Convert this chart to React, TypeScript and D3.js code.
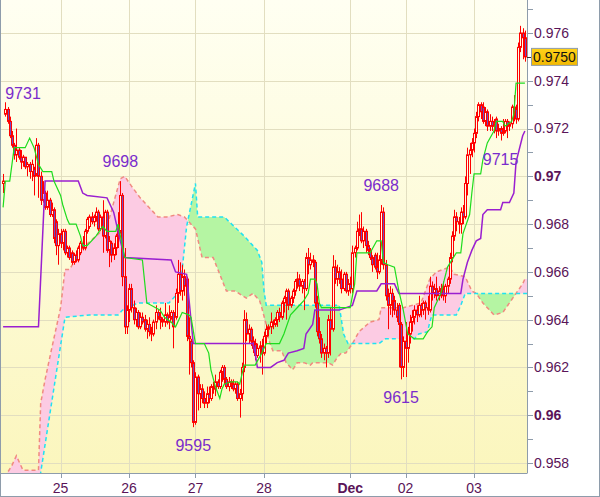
import * as d3 from 'd3'
import { useEffect } from 'react'

type Bar = [number, number, number, number] // open, high, low, close (units of 0.0001)
type Pt = [number, number] // bar index, value (units of 0.0001)

const nov24: Bar[] = [
  [9697,9701,9693,9698],[9726,9731,9725,9728],[9728,9729,9722,9723],[9723,9725,9716,9717],[9717,9719,9712,9713],
  [9713,9714,9707,9709],[9709,9720,9706,9711],[9711,9712,9707,9708],[9708,9711,9703,9706],[9706,9709,9704,9708],
  [9708,9708,9703,9704],[9704,9706,9700,9705],[9705,9706,9699,9702],[9702,9707,9698,9705],[9703,9704,9692,9700],
  [9701,9716,9700,9713],[9713,9714,9691,9700],[9700,9702,9688,9690],[9690,9698,9689,9693],[9693,9694,9686,9687],
  [9687,9694,9686,9690],[9690,9691,9683,9684],[9684,9689,9683,9686],[9686,9687,9672,9674],[9681,9682,9667,9671],
  [9671,9678,9663,9676],
]
const nov25: Bar[] = [
  [9676,9678,9670,9672],[9672,9678,9669,9677],[9677,9678,9667,9668],[9668,9671,9666,9670],[9670,9671,9665,9666],
  [9668,9669,9663,9664],[9664,9668,9663,9667],[9667,9669,9664,9665],[9665,9671,9664,9670],[9668,9673,9667,9672],
  [9672,9675,9669,9670],[9670,9678,9669,9677],[9677,9683,9676,9682],[9679,9684,9678,9683],[9683,9685,9680,9681],
  [9681,9684,9679,9683],[9683,9687,9681,9685],[9685,9686,9677,9678],[9678,9684,9677,9683],[9683,9690,9668,9675],
  [9675,9686,9674,9685],[9685,9686,9668,9669],[9669,9675,9662,9673],[9672,9673,9664,9667],[9667,9672,9665,9670],
  [9670,9676,9667,9675],[9675,9685,9670,9677],[9677,9698,9676,9692],[9692,9693,9654,9658],[9658,9670,9634,9637],
  [9637,9646,9634,9644],
]
const nov26: Bar[] = [
  [9644,9655,9639,9653],[9653,9655,9643,9645],[9645,9648,9638,9640],[9640,9645,9637,9643],[9643,9644,9636,9637],
  [9637,9643,9636,9641],[9641,9643,9638,9639],[9640,9642,9635,9636],[9636,9640,9632,9638],[9638,9641,9633,9635],
  [9635,9637,9631,9634],[9634,9640,9633,9639],[9639,9646,9636,9643],[9643,9644,9640,9641],[9641,9645,9636,9640],
  [9640,9641,9637,9639],[9639,9647,9637,9642],[9642,9643,9638,9639],[9639,9646,9636,9641],[9641,9644,9640,9643],
  [9643,9644,9628,9637],[9641,9653,9640,9651],[9651,9665,9647,9659],[9659,9664,9650,9652],[9652,9663,9648,9658],
  [9658,9661,9650,9654],[9657,9658,9631,9633],[9633,9641,9617,9632],[9631,9632,9620,9622],[9622,9623,9595,9597],
]
const nov27: Bar[] = [
  [9597,9618,9596,9616],[9616,9617,9602,9609],[9609,9613,9603,9611],[9611,9613,9605,9607],[9607,9610,9603,9605],
  [9605,9612,9603,9609],[9609,9612,9605,9607],[9607,9613,9606,9612],[9612,9614,9609,9611],[9611,9617,9608,9614],
  [9614,9615,9611,9612],[9612,9619,9611,9618],[9618,9621,9614,9620],[9620,9621,9613,9615],[9615,9616,9611,9612],
  [9612,9616,9610,9614],[9614,9615,9611,9613],[9613,9615,9610,9611],[9611,9614,9609,9613],[9613,9614,9606,9607],
  [9607,9611,9599,9609],[9609,9622,9606,9620],[9620,9644,9618,9640],[9640,9643,9631,9634],[9634,9638,9630,9636],
  [9636,9637,9629,9631],[9631,9633,9626,9628],[9630,9632,9623,9625],[9625,9630,9624,9628],[9628,9631,9622,9629],
  [9629,9632,9617,9626],
]
const nov28: Bar[] = [
  [9626,9635,9625,9633],[9633,9638,9630,9636],[9636,9638,9633,9637],[9637,9643,9634,9639],[9639,9640,9636,9638],
  [9638,9641,9637,9640],[9640,9644,9637,9643],[9643,9645,9639,9641],[9641,9648,9640,9647],[9647,9650,9643,9649],
  [9649,9653,9640,9652],[9652,9653,9644,9646],[9646,9650,9645,9649],[9649,9653,9647,9652],[9652,9657,9650,9656],
  [9656,9660,9653,9657],[9657,9659,9652,9654],[9654,9657,9651,9656],[9656,9657,9644,9653],[9653,9668,9652,9666],
  [9666,9670,9659,9663],[9663,9668,9661,9665],[9665,9667,9662,9664],[9664,9665,9645,9647],[9647,9650,9633,9635],
  [9635,9641,9630,9632],[9632,9634,9624,9626],[9626,9630,9623,9628],[9628,9629,9620,9626],[9626,9642,9624,9640],
  [9640,9645,9625,9636],[9636,9667,9635,9662],[9662,9665,9655,9657],[9657,9663,9654,9660],[9660,9662,9655,9657],
  [9657,9661,9651,9653],[9653,9660,9652,9659],[9659,9660,9651,9652],[9652,9657,9650,9655],
]
const dec01: Bar[] = [
  [9655,9658,9651,9653],[9653,9671,9651,9668],[9668,9671,9666,9670],[9670,9681,9669,9677],[9677,9684,9675,9678],
  [9678,9685,9672,9673],[9673,9679,9670,9677],[9677,9678,9668,9671],[9671,9673,9667,9669],[9669,9670,9665,9666],
  [9666,9667,9660,9663],[9667,9668,9661,9662],[9662,9668,9657,9660],[9660,9667,9659,9665],[9665,9688,9663,9685],
  [9685,9687,9661,9663],[9663,9665,9648,9650],[9650,9653,9636,9646],[9646,9654,9642,9651],[9651,9653,9641,9648],
  [9648,9650,9642,9644],[9644,9647,9639,9641],[9646,9647,9620,9638],[9638,9639,9615,9620],[9620,9633,9616,9631],
]
const dec02: Bar[] = [
  [9631,9639,9616,9628],[9628,9637,9622,9634],[9634,9642,9630,9639],[9639,9644,9635,9641],[9641,9646,9638,9644],
  [9644,9646,9639,9642],[9642,9650,9641,9646],[9646,9647,9641,9644],[9644,9648,9642,9647],[9647,9648,9640,9645],
  [9645,9650,9642,9644],[9644,9658,9643,9654],[9654,9656,9648,9651],[9651,9655,9649,9653],[9653,9658,9648,9650],
  [9650,9654,9648,9652],[9652,9655,9649,9653],[9653,9656,9648,9650],[9650,9655,9647,9654],[9654,9658,9651,9657],
  [9657,9668,9655,9666],[9666,9677,9664,9675],[9675,9686,9673,9683],[9683,9685,9677,9681],[9681,9683,9676,9680],
  [9680,9687,9676,9685],[9685,9688,9680,9683],[9683,9700,9682,9697],[9697,9712,9692,9709],[9709,9714,9701,9711],
  [9711,9716,9708,9714],
]
const dec03: Bar[] = [
  [9714,9720,9710,9718],[9718,9727,9716,9725],[9725,9731,9723,9730],[9730,9731,9724,9727],[9729,9731,9722,9723],
  [9723,9729,9721,9727],[9727,9728,9719,9721],[9721,9726,9719,9723],[9723,9725,9719,9721],[9721,9724,9718,9722],
  [9724,9725,9716,9719],[9719,9722,9717,9720],[9720,9721,9715,9718],[9718,9724,9717,9719],[9719,9724,9718,9723],
  [9723,9724,9716,9721],[9721,9723,9719,9722],[9722,9730,9720,9729],[9729,9734,9723,9727],[9728,9730,9722,9724],
  [9724,9756,9723,9754],[9754,9763,9752,9760],[9760,9762,9749,9758],[9758,9761,9748,9750],
]

const days = [
  { label: '', bars: nov24 },
  { label: '25', bars: nov25 },
  { label: '26', bars: nov26 },
  { label: '27', bars: nov27 },
  { label: '28', bars: nov28 },
  { label: 'Dec', bars: dec01 },
  { label: '02', bars: dec02 },
  { label: '03', bars: dec03 },
]
const candles: Bar[] = days.flatMap((d) => d.bars)

// ichimoku lines, read as vertices [bar, value]
const tenkan: Pt[] = [
  [0,9687],[1,9698],[3,9698],[5,9712],[10,9712],[12,9716],[14,9712],[16,9705],[18,9702],[22,9702],[23,9698],
  [26,9692],[27,9688],[29,9682],[30,9680],[33,9680],[35,9675],[36,9671],[38,9671],[42,9675],[45,9679],[47,9677],
  [51,9677],[52,9680],[55,9666],[63,9665],[65,9647],[69,9645],[71,9644],[73,9641],[76,9639],[78,9637],[81,9643],
  [84,9642],[85,9641],[87,9630],[91,9630],[93,9626],[94,9619],[96,9612],[98,9607],[99,9611],[100,9613],[103,9614],
  [106,9614],[107,9613],[108,9617],[109,9621],[114,9621],[117,9626],[119,9630],[125,9630],[127,9634],[130,9642],
  [133,9645],[136,9648],[138,9651],[139,9657],[141,9657],[142,9655],[143,9647],[144,9645],[157,9645],[159,9655],
  [160,9668],[166,9668],[169,9673],[171,9673],[172,9664],[174,9663],[177,9662],[179,9652],[181,9644],[183,9634],
  [186,9632],[190,9632],[192,9635],[194,9637],[195,9645],[198,9651],[201,9662],[205,9668],[207,9668],[208,9676],
  [211,9684],[212,9693],[213,9701],[216,9701],[217,9707],[219,9714],[222,9719],[223,9723],[226,9723],[227,9721],
  [230,9723],[231,9726],[232,9739],[236,9739],
]
const kijun: Pt[] = [
  [0,9637],[16,9637],[19,9698],[34,9698],[36,9693],[38,9692],[47,9691],[50,9685],[53,9673],[55,9666],[76,9665],
  [78,9660],[83,9659],[86,9630],[113,9630],[114,9626],[115,9620],[121,9620],[124,9622],[127,9623],[129,9626],
  [133,9627],[136,9628],[137,9634],[140,9638],[141,9644],[152,9644],[158,9646],[160,9652],[169,9652],[171,9655],
  [177,9655],[179,9651],[207,9651],[208,9657],[210,9664],[212,9669],[214,9673],[216,9674],[217,9684],[219,9686],
  [225,9686],[226,9689],[229,9689],[231,9693],[232,9706],[235,9717],[236,9719],
]
const spanA: Pt[] = [
  [0,9570],[16,9570],[17,9576],[28,9641],[39,9642],[52,9642],[54,9644],[61,9647],[75,9647],[80,9652],[83,9679],
  [87,9697],[88,9683],[100,9683],[109,9675],[115,9669],[117,9664],[118,9652],[119,9646],[152,9646],[154,9634],
  [156,9630],[170,9630],[173,9632],[186,9632],[188,9634],[192,9635],[193,9639],[194,9642],[205,9642],[207,9646],
  [209,9651],[236,9651],
]
const spanB: Pt[] = [
  [0,9572],[2,9576],[4,9579],[6,9583],[9,9577],[16,9577],[17,9605],[19,9615],[22,9628],[26,9645],[28,9661],
  [30,9661],[36,9670],[42,9675],[47,9679],[50,9689],[53,9699],[55,9700],[58,9696],[62,9691],[65,9688],[70,9683],
  [74,9683],[79,9684],[82,9683],[84,9681],[87,9678],[90,9666],[95,9666],[98,9659],[101,9652],[105,9652],[110,9649],
  [113,9651],[116,9648],[117,9645],[119,9638],[120,9632],[122,9627],[126,9627],[128,9622],[131,9619],[133,9622],
  [136,9622],[139,9621],[140,9622],[147,9622],[149,9621],[151,9624],[153,9626],[155,9626],[158,9630],[161,9635],
  [166,9639],[170,9640],[171,9645],[181,9645],[189,9647],[193,9657],[196,9660],[202,9662],[204,9659],[209,9658],
  [212,9652],[214,9651],[217,9647],[222,9642],[226,9643],[229,9647],[232,9651],[235,9655],[236,9657],
]

const marks = [
  { bar: 1, at: 'high' },
  { bar: 53, at: 'high' },
  { bar: 86, at: 'low' },
  { bar: 171, at: 'high' },
  { bar: 180, at: 'low' },
  { bar: 225, at: 'low' },
]

const priceTicks = [0.958, 0.96, 0.962, 0.964, 0.966, 0.968, 0.97, 0.972, 0.974, 0.976]
const minorTicks = [0.959, 0.961, 0.963, 0.965, 0.967, 0.969, 0.971, 0.973, 0.975, 0.977]
const lastPrice = 0.975

export default function App() {
  useEffect(() => {
    document.body.style.margin = '0'
  }, [])

  const W = 600
  const H = 497
  const plotL = 1
  const plotR = 527
  const plotB = 473
  const n = candles.length

  const x = d3.scaleLinear().domain([-0.5, n - 0.5]).range([2, 526])
  const y = d3.scaleLinear().domain([0.958, 0.976]).range([463, 33])
  const yp = (v: number) => y(v / 10000)

  const line = d3.line<Pt>().x((d) => x(d[0])).y((d) => yp(d[1]))
  const widen = (pts: Pt[]): Pt[] => [[-1, pts[0][1]], ...pts, [n, pts[pts.length - 1][1]]]
  const above = d3.area<Pt>().x((d) => x(d[0])).y0(-20).y1((d) => yp(d[1]))
  const below = d3.area<Pt>().x((d) => x(d[0])).y0(H + 20).y1((d) => yp(d[1]))

  const dayStarts: { label: string; bar: number }[] = []
  let acc = 0
  days.forEach((d) => {
    if (d.label) dayStarts.push({ label: d.label, bar: acc })
    acc += d.bars.length
  })

  const font = "'Liberation Sans', Arial, sans-serif"
  const axisText = '#5a1458'
  const frame = '#8e9cab'
  const grid = '#e2dec0'
  const crisp = (v: number) => Math.round(v) + 0.5

  return (
    <svg width={W} height={H} style={{ display: 'block' }} fontFamily={font}>
      <defs>
        <linearGradient id="bg" x1="0" y1="0" x2="0" y2="1">
          <stop offset="0" stopColor="#fffff2" />
          <stop offset="1" stopColor="#fbf6bd" />
        </linearGradient>
        <linearGradient id="gold" x1="0" y1="0" x2="0" y2="1">
          <stop offset="0" stopColor="#ffd21a" />
          <stop offset="1" stopColor="#f2b800" />
        </linearGradient>
        <clipPath id="plot">
          <rect x={plotL} y={0} width={plotR - plotL} height={plotB} />
        </clipPath>
        <clipPath id="aboveA">
          <path d={above(widen(spanA)) || undefined} />
        </clipPath>
        <clipPath id="aboveB">
          <path d={above(widen(spanB)) || undefined} />
        </clipPath>
      </defs>

      <rect width={W} height={H} fill="#ffffff" />
      <rect x={plotL} y={0} width={plotR - plotL} height={plotB} fill="url(#bg)" />

      <g clipPath="url(#plot)">
        {priceTicks.map((t) => (
          <line key={t} x1={plotL} x2={plotR} y1={crisp(y(t))} y2={crisp(y(t))} stroke={grid} />
        ))}
        {dayStarts.map((d) => (
          <line key={d.label} x1={crisp(x(d.bar))} x2={crisp(x(d.bar))} y1={0} y2={plotB} stroke={grid} />
        ))}

        {/* kumo fills */}
        <g clipPath="url(#aboveA)">
          <path d={below(widen(spanB)) || undefined} fill="#fccbe3" />
        </g>
        <g clipPath="url(#aboveB)">
          <path d={below(widen(spanA)) || undefined} fill="#b5f5a3" />
        </g>
        <path d={line(widen(spanB)) || undefined} fill="none" stroke="#f08a80" strokeWidth={1.5} strokeDasharray="4 3" />
        <path d={line(widen(spanA)) || undefined} fill="none" stroke="#1fe2f2" strokeWidth={1.5} strokeDasharray="4 3" />

        {candles.map(([o, h, l, c], i) => {
          const cx = crisp(x(i))
          const top = yp(Math.max(o, c))
          const bot = yp(Math.min(o, c))
          return (
            <g key={i}>
              <line x1={cx} x2={cx} y1={yp(h)} y2={yp(l)} stroke="#ff0000" />
              <rect
                x={cx - 1}
                y={top}
                width={2}
                height={Math.max(bot - top, 0.6)}
                fill={c < o ? '#6e4cc2' : '#fffce6'}
                stroke="#ff0000"
              />
            </g>
          )
        })}

        <path d={line(kijun) || undefined} fill="none" stroke="#9a1fd0" strokeWidth={1.5} />
        <path d={line(tenkan) || undefined} fill="none" stroke="#1edc1e" strokeWidth={1.2} />
      </g>

      {marks.map((m) => {
        const b = candles[m.bar]
        const v = m.at === 'high' ? b[1] : b[2]
        // near the left edge the label is pushed right, beside the bar instead of above it
        const atEdge = x(m.bar) < 23
        const tx = Math.max(x(m.bar), 23)
        const ty = m.at === 'high' ? yp(v) - (atEdge ? 3 : 14) : yp(v) + 24
        return (
          <text key={m.bar} x={tx} y={ty} textAnchor="middle" fontSize={16} fill="#7a2ccc">
            {v}
          </text>
        )
      })}

      {/* axes */}
      <line x1={plotR + 0.5} x2={plotR + 0.5} y1={0} y2={plotB} stroke={frame} />
      <line x1={0} x2={plotR + 0.5} y1={plotB + 0.5} y2={plotB + 0.5} stroke={frame} />
      {minorTicks.map((t) => (
        <line key={t} x1={plotR} x2={plotR + 6} y1={crisp(y(t))} y2={crisp(y(t))} stroke={frame} />
      ))}
      {priceTicks.map((t) => {
        const label = String(+t.toFixed(3))
        const round = label.length <= 4
        return (
          <g key={t}>
            <line x1={plotR} x2={plotR + 6} y1={crisp(y(t))} y2={crisp(y(t))} stroke={frame} />
            <text
              x={plotR + 7}
              y={y(t)}
              dy="0.35em"
              fontSize={14}
              fontWeight={round ? 'bold' : 'normal'}
              fill={axisText}
            >
              {label}
            </text>
          </g>
        )
      })}
      <line x1={plotR} x2={plotR + 5} y1={crisp(y(lastPrice))} y2={crisp(y(lastPrice))} stroke="#333" />
      <rect x={plotR + 4.5} y={y(lastPrice) - 8.5} width={46} height={17} fill="url(#gold)" stroke={frame} />
      <text x={plotR + 27.5} y={y(lastPrice)} dy="0.36em" textAnchor="middle" fontSize={14} fill="#111">
        {d3.format('.4f')(lastPrice)}
      </text>

      {dayStarts.map((d) => (
        <g key={d.label}>
          <line x1={crisp(x(d.bar))} x2={crisp(x(d.bar))} y1={plotB} y2={plotB + 5} stroke={frame} />
          <text
            x={x(d.bar)}
            y={493}
            textAnchor="middle"
            fontSize={14}
            fontWeight={d.label === 'Dec' ? 'bold' : 'normal'}
            fill={axisText}
          >
            {d.label}
          </text>
        </g>
      ))}

      {/* outer frame */}
      <line x1={0.5} x2={0.5} y1={0} y2={H} stroke={frame} />
      <line x1={W - 0.5} x2={W - 0.5} y1={0} y2={H} stroke={frame} />
      <line x1={0} x2={W} y1={H - 0.5} y2={H - 0.5} stroke={frame} />
    </svg>
  )
}
